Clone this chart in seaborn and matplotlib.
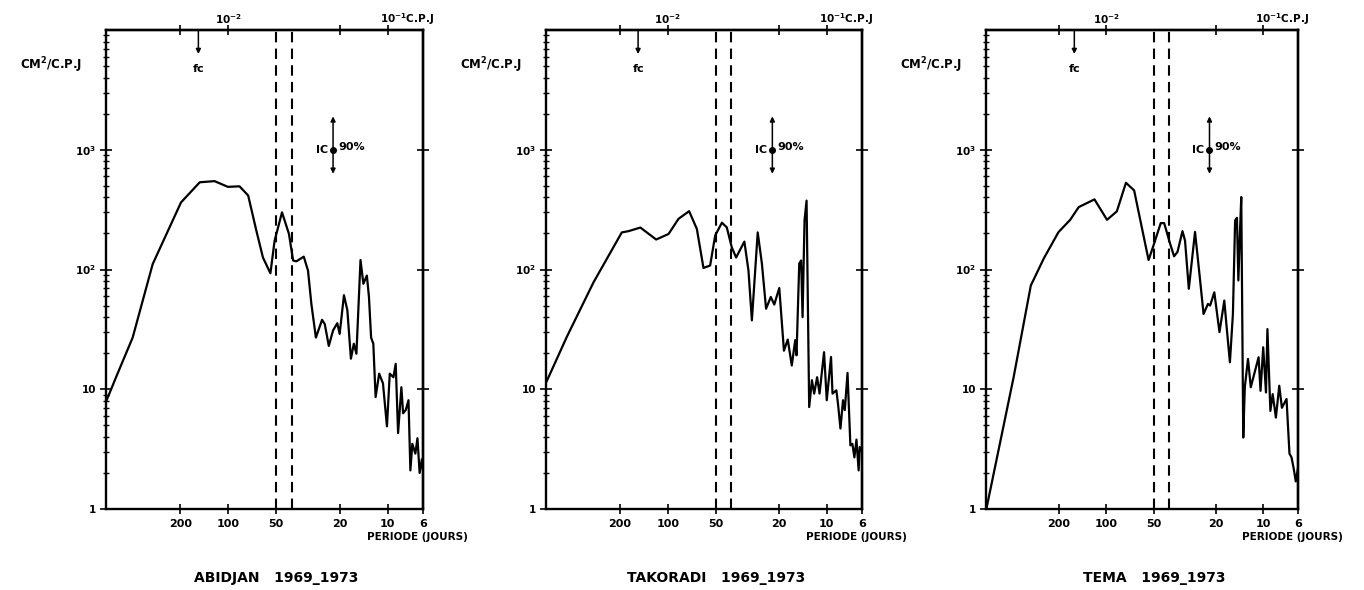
import numpy as np
import pandas as pd
import matplotlib
matplotlib.use("Agg")
import matplotlib.pyplot as plt
import matplotlib.transforms as mtransforms
from matplotlib.ticker import FixedLocator, NullLocator, NullFormatter, LogLocator
import seaborn as sns

# ---------------- data (period in days, spectral density cm^2/cpd) ----------------
abidjan_period = [591, 506, 398, 298, 198, 151, 122, 100.6, 85, 75, 66.7, 60.6, 54.4, 51.2, 46,
                  41.6, 39.2, 37.4, 33.6, 31.6, 30.1, 28.2, 25.8, 24.8, 23.4, 22.0, 20.7, 20.0,
                  18.8, 17.9, 17.0, 16.3, 15.7, 14.8, 14.2, 13.5, 13.1, 12.7, 12.3, 11.9, 11.3,
                  10.7, 10.1, 9.7, 9.2, 8.9, 8.6, 8.2, 8.0, 7.7, 7.4, 7.2, 7.0, 6.7, 6.5, 6.3,
                  6.1, 6.0]
abidjan_value = [7.6, 12.6, 27, 111, 363, 535, 547, 490, 495, 415, 212, 126, 93, 174, 300,
                 198, 119, 117, 128, 98, 51.6, 27, 38, 35, 23, 31, 35.6, 29,
                 61, 45.7, 18, 24, 19.8, 120, 76, 89, 59, 27, 24, 8.6, 13.5,
                 11.2, 4.9, 13.5, 12.6, 16.3, 4.3, 10.4, 6.3, 6.7, 8.1, 2.1, 3.5, 2.9, 3.9, 2.0,
                 2.6, 2.1]

takoradi_period = [582, 432, 294, 195, 177, 149, 118.5, 99, 85.7, 73.5, 65.7, 59.7, 54.2, 50.4,
                   45.7, 42.6, 39.6, 37.2, 33.0, 31.1, 29.6, 27.2, 25.6, 24.1, 22.5, 21.4, 19.9,
                   18.6, 17.6, 16.6, 15.8, 15.5, 14.9, 14.5, 14.2, 13.8, 13.4, 12.9, 12.4, 12.0,
                   11.5, 11.1, 10.4, 10.0, 9.4, 9.2, 8.7, 8.5, 8.2, 7.9, 7.7, 7.4, 7.1, 6.9, 6.7,
                   6.5, 6.3, 6.2, 6.0]
takoradi_value = [11.5, 27.5, 78, 204, 209, 224, 178, 198, 265, 307, 218, 103, 108, 192,
                  246, 225, 153, 126, 171, 98, 37.6, 204, 112, 47, 59, 51, 70,
                  21, 26, 15.8, 25.7, 19.2, 112, 119, 40, 257, 376, 7.1, 11.9, 9.2,
                  12.6, 9.2, 20.4, 8.1, 18.6, 9.2, 9.8, 7.6, 4.7, 8.1, 6.7, 13.7, 3.4, 3.5, 2.7,
                  3.8, 2.1, 3.3, 3.0]

tema_period = [582, 390, 303, 251, 202, 170, 150, 119, 99, 85.7, 75, 66.5, 53.8, 50.1, 45,
               42.8, 39.2, 37, 35.2, 32.7, 31.5, 29.8, 27.2, 25.5, 24.0, 22.5, 21.8, 20.5, 19.0,
               17.7, 17.1, 16.3, 15.6, 15.1, 14.7, 14.4, 14.0, 13.8, 13.4, 13.1, 12.5, 12.0,
               10.7, 10.4, 10.0, 9.6, 9.4, 9.0, 8.7, 8.3, 7.9, 7.6, 7.1, 6.8, 6.6, 6.4, 6.2, 6.0]
tema_value = [1.0, 12.6, 73.5, 123, 205, 260, 332, 385, 260, 306, 530, 458, 120, 158, 244,
              244, 164, 129, 140, 209, 174, 69, 206, 92, 42.5, 51.6, 50, 64.5, 30,
              55, 33, 16.8, 42.5, 257, 270, 81, 241, 403, 3.95, 10.4, 17.9, 10.4,
              18.5, 9.7, 22.4, 9.4, 31.8, 6.6, 9.1, 5.8, 10.7, 7.0, 8.3, 2.9, 2.7, 2.2, 1.7, 2.2]

titles = ["ABIDJAN   1969_1973", "TAKORADI   1969_1973", "TEMA   1969_1973"]

period_ticks = [200, 100, 50, 20, 10, 6]
period_tick_labels = ["200", "100", "50", "20", "10", "6"]
freq_ticks = [0.005, 0.01, 0.05, 0.1]
freq_labels = {0.01: r"$10^{-2}$", 0.1: r"$10^{-1}$C.P.J"}
y_ticks = [1, 10, 100, 1000]
y_tick_labels = ["1", "10", r"$10^2$", r"$10^3$"]
right_y_ticks = [10, 100, 1000]
band_periods = [50, 40]
fc_periods = [154, 154, 160]
ic_period = 22
ic_center, ic_low, ic_high = 1000, 630, 1900

# ---------------- style ----------------
sns.set_style("ticks")
plt.rcParams["font.family"] = ["DejaVu Sans"]
plt.rcParams["font.weight"] = "bold"
plt.rcParams["mathtext.default"] = "bf"
for k in ["text.color", "axes.labelcolor", "xtick.color", "ytick.color", "axes.edgecolor"]:
    plt.rcParams[k] = "black"

W, H = 1364, 590
fig = plt.figure(figsize=(W / 100, H / 100), dpi=100)
fig.patch.set_facecolor("white")

panels = [(106, 423, abidjan_period, abidjan_value),
          (546, 862, takoradi_period, takoradi_value),
          (986, 1298, tema_period, tema_value)]
y_top_px, y_bot_px = 30, 509

for i, (lpx, rpx, per, val) in enumerate(panels):
    ax = fig.add_axes([lpx / W, 1 - y_bot_px / H, (rpx - lpx) / W, (y_bot_px - y_top_px) / H])
    ax.set_xscale("log")
    ax.set_yscale("log")
    df = pd.DataFrame({"freq": 1.0 / np.array(per), "value": val})
    sns.lineplot(data=df, x="freq", y="value", ax=ax, color="black", lw=1.6,
                 estimator=None, sort=True)
    ax.set_xlim(1 / 585, 1 / 6)
    ax.set_ylim(1, 1e4)
    ax.set_xlabel("")
    ax.set_ylabel("")

    for s in ax.spines.values():
        s.set_visible(True)
        s.set_linewidth(1.7)
        s.set_color("black")

    # bottom: periods
    ax.xaxis.set_major_locator(FixedLocator([1 / p for p in period_ticks]))
    ax.set_xticklabels(period_tick_labels)
    ax.xaxis.set_minor_locator(NullLocator())
    ax.tick_params(axis="x", which="major", direction="inout", length=7, width=1.2,
                   labelsize=8, pad=4, top=False)

    # left: log ticks with minors
    ax.yaxis.set_major_locator(FixedLocator(y_ticks))
    ax.set_yticklabels(y_tick_labels)
    ax.yaxis.set_minor_locator(LogLocator(base=10, subs=np.arange(2, 10)))
    ax.yaxis.set_minor_formatter(NullFormatter())
    ax.tick_params(axis="y", which="major", direction="inout", length=8, width=1.2,
                   labelsize=7.5, pad=3, right=False)
    ax.tick_params(axis="y", which="minor", direction="inout", length=5, width=1.0,
                   right=False)

    # top: frequency axis (ticks) and labels
    secx = ax.secondary_xaxis("top")
    secx.set_xticks(freq_ticks)
    secx.set_xticklabels([""] * len(freq_ticks))
    secx.xaxis.set_minor_locator(NullLocator())
    secx.tick_params(direction="inout", length=7, width=1.2)
    secx.spines["top"].set_linewidth(1.7)
    for fval, lab in freq_labels.items():
        dx = 0 if fval == 0.01 else -8
        ha = "center" if fval == 0.01 else "left"
        tr = mtransforms.offset_copy(ax.get_xaxis_transform(), fig=fig, x=dx, y=11,
                                     units="dots")
        ax.text(fval, 1.0, lab, transform=tr, ha=ha, va="center", fontsize=7.5,
                fontweight="bold")

    # right axis: majors only
    secy = ax.secondary_yaxis("right")
    secy.set_yticks(right_y_ticks)
    secy.yaxis.set_minor_locator(NullLocator())
    secy.set_yticklabels([])
    secy.tick_params(direction="inout", length=8, width=1.2)
    secy.spines["right"].set_linewidth(1.7)

    # dashed band
    for p in band_periods:
        ax.axvline(1 / p, color="black", ls=(0, (5, 3)), lw=1.5)

    # fc arrow
    fc = 1 / fc_periods[i]
    ax.annotate("", xy=(fc, 6300), xytext=(fc, 1e4),
                arrowprops=dict(arrowstyle="-|>", color="black", lw=1.1, mutation_scale=7,
                                shrinkA=0, shrinkB=0))
    ax.text(fc, 4700, "fc", ha="center", va="center", fontsize=8, fontweight="bold")

    # confidence interval
    fi = 1 / ic_period
    ax.annotate("", xy=(fi, ic_high), xytext=(fi, ic_low),
                arrowprops=dict(arrowstyle="<|-|>", color="black", lw=1.1, mutation_scale=7,
                                shrinkA=0, shrinkB=0))
    ax.plot([fi], [ic_center], "o", color="black", ms=4)
    trl = mtransforms.offset_copy(ax.transData, fig=fig, x=-5, y=0, units="dots")
    ax.text(fi, ic_center, "IC", transform=trl, ha="right", va="center", fontsize=8,
            fontweight="bold")
    trr = mtransforms.offset_copy(ax.transData, fig=fig, x=5, y=3, units="dots")
    ax.text(fi, ic_center, "90%", transform=trr, ha="left", va="center", fontsize=8,
            fontweight="bold")

    # y label
    tyl = mtransforms.offset_copy(ax.transAxes, fig=fig, x=-24, y=0, units="dots")
    ax.text(0, 0.927, r"CM$^2$/C.P.J", transform=tyl, ha="right", va="center",
            fontsize=8.5, fontweight="bold")

    # periode label
    tpl = mtransforms.offset_copy(ax.transAxes, fig=fig, x=-56, y=-28, units="dots")
    ax.text(1, 0, "PERIODE (JOURS)", transform=tpl, ha="left", va="center",
            fontsize=7.5, fontweight="bold")

    # station title
    ttl = mtransforms.offset_copy(ax.transAxes, fig=fig, x=12, y=-69, units="dots")
    ax.text(0.5, 0, titles[i], transform=ttl, ha="center", va="center", fontsize=10,
            fontweight="bold")

fig.savefig("out.png", dpi=100, facecolor="white")
